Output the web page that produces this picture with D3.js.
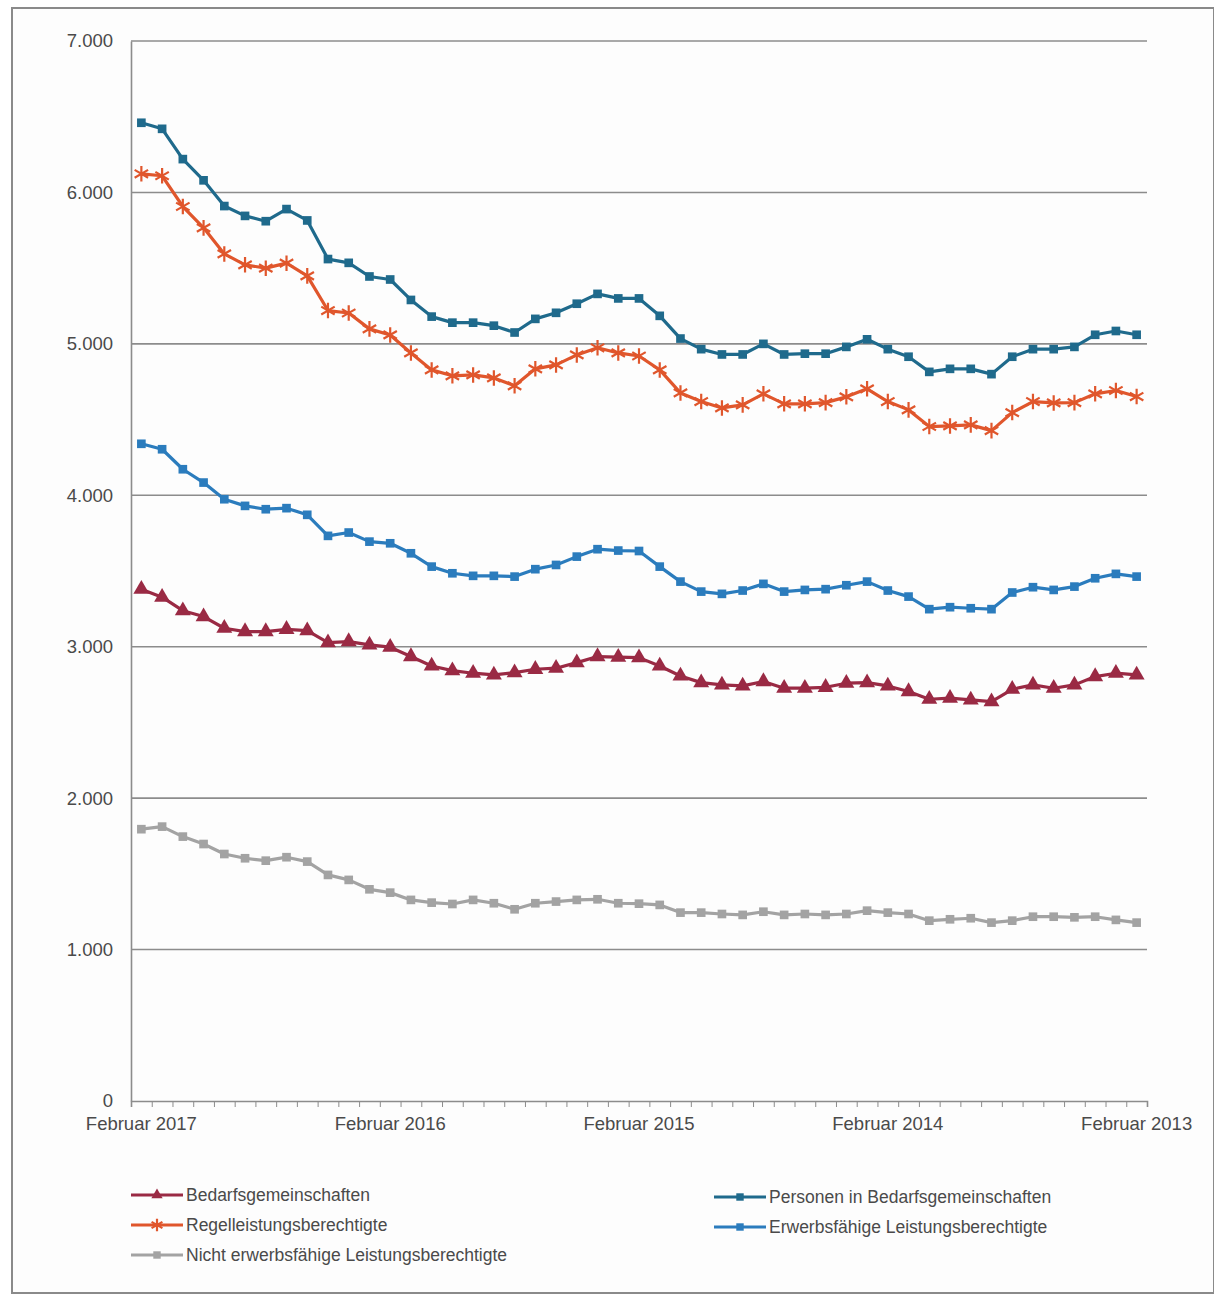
<!DOCTYPE html>
<html>
<head>
<meta charset="utf-8">
<script src="https://cdn.jsdelivr.net/npm/d3@7"></script>
<style>
  body { margin: 0; background: #fff; }
  svg text { font-family: "Liberation Sans", Arial, sans-serif; fill: #4a4a4a; }
</style>
</head>
<body>
<div id="chart"></div>
<script>
var width = 1214;
var height = 1296;

// Monate von Februar 2017 rückwärts bis Februar 2013 (49 Werte)
var monthNames = ["Januar", "Februar", "März", "April", "Mai", "Juni", "Juli",
    "August", "September", "Oktober", "November", "Dezember"];
var startYear = 2017, startMonth = 1, monthCount = 49;
var tickLabels = ["Februar 2017", "Februar 2016", "Februar 2015", "Februar 2014", "Februar 2013"];
var yTicks = [0, 1000, 2000, 3000, 4000, 5000, 6000, 7000];

var months = [];
for (var k = 0; k < monthCount; k++) {
    var m = ((startMonth - k) % 12 + 12) % 12;
    var y = startYear + Math.floor((startMonth - k) / 12);
    months.push(monthNames[m] + " " + y);
}

var bedarfsgemeinschaften = [3380, 3327, 3238, 3199, 3122, 3100, 3100, 3115, 3106, 3027,
    3034, 3012, 2997, 2935, 2873, 2842, 2825, 2814, 2829, 2851, 2858, 2895, 2935, 2931,
    2928, 2873, 2807, 2763, 2748, 2741, 2770, 2726, 2726, 2732, 2759, 2763, 2741, 2704,
    2653, 2660, 2649, 2637, 2719, 2748, 2726, 2748, 2803, 2825, 2814];
var regelleistung = [6123, 6110, 5907, 5766, 5594, 5522, 5500, 5533, 5449, 5220,
    5204, 5099, 5059, 4940, 4828, 4789, 4795, 4775, 4723, 4835, 4861, 4927, 4974, 4940,
    4920, 4828, 4676, 4619, 4577, 4597, 4670, 4604, 4604, 4612, 4650, 4703, 4619, 4564,
    4454, 4458, 4465, 4427, 4546, 4619, 4610, 4612, 4670, 4692, 4652];
var nichtErwerbsfaehige = [1795, 1812, 1746, 1697, 1631, 1603, 1587, 1610, 1581, 1493,
    1460, 1398, 1376, 1328, 1310, 1301, 1328, 1306, 1266, 1306, 1317, 1328, 1332, 1306,
    1303, 1295, 1244, 1244, 1235, 1229, 1250, 1229, 1235, 1229, 1235, 1257, 1244, 1235,
    1191, 1200, 1207, 1178, 1191, 1217, 1217, 1213, 1217, 1196, 1178];
var personen = [6460, 6420, 6220, 6080, 5910, 5845, 5810, 5890, 5815, 5560,
    5535, 5445, 5425, 5290, 5180, 5140, 5140, 5120, 5075, 5165, 5205, 5265, 5330, 5300,
    5300, 5185, 5035, 4965, 4930, 4930, 5000, 4930, 4935, 4935, 4980, 5030, 4965, 4915,
    4815, 4835, 4835, 4800, 4915, 4965, 4965, 4980, 5060, 5085, 5060];
var erwerbsfaehige = [4340, 4304, 4172, 4084, 3974, 3930, 3908, 3915, 3871, 3732,
    3754, 3694, 3683, 3617, 3529, 3485, 3468, 3468, 3463, 3512, 3540, 3595, 3644, 3635,
    3632, 3529, 3430, 3364, 3349, 3371, 3415, 3364, 3375, 3380, 3406, 3430, 3371, 3331,
    3248, 3261, 3254, 3248, 3358, 3393, 3375, 3397, 3452, 3481, 3463];

var series = [
    { name: "Bedarfsgemeinschaften", values: bedarfsgemeinschaften, color: "#9a2a44", marker: "triangle" },
    { name: "Regelleistungsberechtigte", values: regelleistung, color: "#e0562c", marker: "asterisk" },
    { name: "Nicht erwerbsfähige Leistungsberechtigte", values: nichtErwerbsfaehige, color: "#a3a3a3", marker: "square" },
    { name: "Personen in Bedarfsgemeinschaften", values: personen, color: "#1f6a8c", marker: "square" },
    { name: "Erwerbsfähige Leistungsberechtigte", values: erwerbsfaehige, color: "#2b7cbd", marker: "square" }
];
var drawOrder = [2, 0, 4, 1, 3];

var plot = { left: 131, right: 1147, top: 41, bottom: 1101 };

var de = d3.formatLocale({ decimal: ",", thousands: ".", grouping: [3], currency: ["", " €"] });

var svg = d3.select("#chart")
    .append("svg")
    .attr("width", width)
    .attr("height", height);

// Rahmen um die ganze Grafik
svg.append("rect")
    .attr("x", 12).attr("y", 8)
    .attr("width", width - 12).attr("height", 1285)
    .attr("fill", "#fdfdfd")
    .attr("stroke", "#8a8a8a")
    .attr("stroke-width", 2);

var xBand = d3.scaleBand()
    .domain(months)
    .range([plot.left, plot.right])
    .padding(0);
var xEdge = d3.scaleLinear()
    .domain([0, months.length])
    .range([plot.left, plot.right]);
var yScale = d3.scaleLinear()
    .domain([0, 7000])
    .range([plot.bottom, plot.top]);

function xPos(i) {
    return xBand(months[i]) + xBand.bandwidth() / 2;
}

// Gitterlinien
svg.append("g")
    .selectAll("line")
    .data(yTicks.slice(1))
    .enter()
    .append("line")
    .attr("x1", plot.left)
    .attr("x2", plot.right)
    .attr("y1", function (d) { return yScale(d); })
    .attr("y2", function (d) { return yScale(d); })
    .attr("stroke", "#8c8c8c")
    .attr("stroke-width", 1.6);

// y-Achse
var yAxis = d3.axisLeft(yScale)
    .tickValues(yTicks)
    .tickSize(0)
    .tickPadding(18)
    .tickFormat(de.format(",d"));
var gy = svg.append("g")
    .attr("transform", "translate(" + plot.left + ",0)")
    .call(yAxis);
gy.select(".domain").attr("stroke", "#8c8c8c").attr("stroke-width", 1.6);
gy.selectAll("text").style("font-size", "18.5px").attr("fill", "#555");

// x-Achse: Teilstriche an den Monatsgrenzen
var xTicksAxis = d3.axisBottom(xEdge)
    .tickValues(d3.range(months.length + 1))
    .tickSize(6)
    .tickFormat("");
var gx = svg.append("g")
    .attr("transform", "translate(0," + plot.bottom + ")")
    .call(xTicksAxis);
gx.select(".domain").attr("stroke", "#8c8c8c").attr("stroke-width", 1.6);
gx.selectAll(".tick line").attr("stroke", "#8c8c8c");

var xLabelAxis = d3.axisBottom(xBand)
    .tickValues(tickLabels)
    .tickSize(0)
    .tickPadding(16);
var gxl = svg.append("g")
    .attr("transform", "translate(0," + plot.bottom + ")")
    .call(xLabelAxis);
gxl.select(".domain").remove();
gxl.selectAll("text").style("font-size", "18.5px").attr("fill", "#555");

// Linien
var line = d3.line()
    .x(function (d, i) { return xPos(i); })
    .y(function (d) { return yScale(d); });

function symbolFor(marker, size) {
    if (marker == "triangle") return d3.symbol().type(d3.symbolTriangle).size(size || 110);
    if (marker == "asterisk") return d3.symbol().type(d3.symbolAsterisk).size(size || 170);
    return d3.symbol().type(d3.symbolSquare).size(size || 75);
}

function drawMarker(g, s, x, y, size) {
    var p = g.append("path")
        .attr("d", symbolFor(s.marker, size)())
        .attr("transform", "translate(" + x + "," + y + ")");
    if (s.marker == "asterisk") {
        p.attr("fill", "none").attr("stroke", s.color).attr("stroke-width", 2.2);
    } else {
        p.attr("fill", s.color).attr("stroke", "none");
    }
}

drawOrder.forEach(function (idx) {
    var s = series[idx];
    var g = svg.append("g");
    g.append("path")
        .attr("d", line(s.values))
        .attr("fill", "none")
        .attr("stroke", s.color)
        .attr("stroke-width", 3.2)
        .attr("stroke-linejoin", "round");
    s.values.forEach(function (v, i) {
        drawMarker(g, s, xPos(i), yScale(v));
    });
});

// Legende
var legendPos = [
    { x: 131, y: 1195 }, { x: 131, y: 1225 }, { x: 131, y: 1255 },
    { x: 714, y: 1197 }, { x: 714, y: 1227 }
];
series.forEach(function (s, i) {
    var lp = legendPos[i];
    var g = svg.append("g").attr("transform", "translate(" + lp.x + "," + lp.y + ")");
    g.append("line")
        .attr("x1", 0).attr("x2", 52)
        .attr("y1", 0).attr("y2", 0)
        .attr("stroke", s.color)
        .attr("stroke-width", 3);
    drawMarker(g, s, 26, 0, s.marker == "asterisk" ? 110 : 55);
    g.append("text")
        .attr("x", 55)
        .attr("y", 6)
        .style("font-size", "17.5px")
        .attr("fill", "#444")
        .text(s.name);
});
</script>
</body>
</html>
